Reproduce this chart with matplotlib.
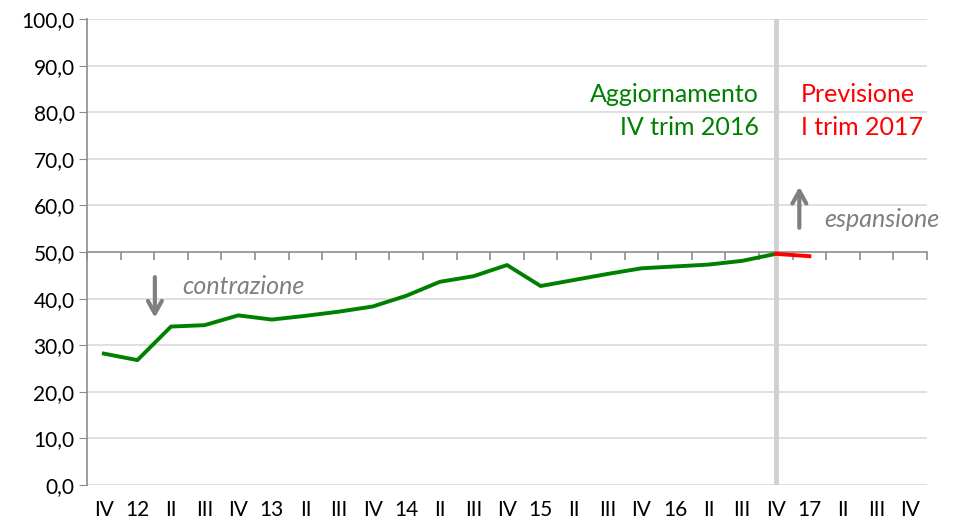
import matplotlib
matplotlib.use("Agg")
import matplotlib.pyplot as plt
import numpy as np

plt.rcParams['font.family'] = ['Lato', 'DejaVu Sans']

categories = ["IV", "12", "II", "III", "IV", "13", "II", "III", "IV", "14", "II", "III",
              "IV", "15", "II", "III", "IV", "16", "II", "III", "IV", "17", "II", "III", "IV"]
actual = [28.2, 26.8, 34.0, 34.3, 36.4, 35.5, 36.3, 37.2, 38.3, 40.6, 43.6, 44.8,
          47.2, 42.7, 44.0, 45.3, 46.5, 46.9, 47.3, 48.1, 49.6]
forecast = [49.6, 49.1]
forecast_start = 20
yticks = list(range(0, 101, 10))

fig = plt.figure(figsize=(9.55, 5.25), dpi=100)
ax = fig.add_axes([0.0911, 0.0762, 0.8796, 0.8876])

n = len(categories)
x = np.arange(n)
ax.set_xlim(-0.5, n - 0.5)
ax.set_ylim(0, 100)

# gridlines
for yv in yticks:
    if yv != 50:
        ax.axhline(yv, color="#d9d9d9", lw=1.2, zorder=0)

# vertical separator
ax.axvline(forecast_start, color="#d0d0d0", lw=3.5, zorder=1)

# series
ax.plot(x[:len(actual)], actual, color="#008000", lw=2.8, zorder=3, solid_joinstyle="round")
ax.plot(x[forecast_start:forecast_start + len(forecast)], forecast, color="#ff0000", lw=2.8, zorder=3)

# axes styling
for s in ["top", "right"]:
    ax.spines[s].set_visible(False)
ax.spines["left"].set_color("#8c8c8c")
ax.spines["left"].set_linewidth(1.2)
ax.spines["bottom"].set_position(("data", 50))
ax.spines["bottom"].set_color("#8c8c8c")
ax.spines["bottom"].set_linewidth(1.2)

ax.set_yticks(yticks)
ax.set_yticklabels([f"{v:.1f}".replace(".", ",") for v in yticks])
ax.tick_params(axis="y", direction="out", length=6, color="#8c8c8c", labelsize=15, pad=3)

ax.set_xticks(np.arange(-0.5, n, 1.0))
ax.tick_params(axis="x", direction="out", length=6, width=1.2, color="#8c8c8c", labelbottom=False)

sec = ax.secondary_xaxis(0)
sec.set_xticks(x)
sec.set_xticklabels(categories)
sec.tick_params(length=0, labelsize=15, pad=11)
sec.spines["bottom"].set_visible(False)

# annotations
arrow_props = dict(arrowstyle="->,head_length=0.9,head_width=0.5", color="#7f7f7f", lw=3)
ax.annotate("", xy=(1.52, 35.3), xytext=(1.52, 45.2), arrowprops=arrow_props)
ax.text(2.35, 42.6, "contrazione", color="#7f7f7f", style="italic", fontsize=18, va="center", ha="left")

ax.annotate("", xy=(20.7, 64.6), xytext=(20.7, 54.6), arrowprops=arrow_props)
ax.text(21.45, 57.0, "espansione", color="#7f7f7f", style="italic", fontsize=18, va="center", ha="left")

ax.text(19.5, 86.3, "Aggiornamento\nIV trim 2016", color="#008000", fontsize=18, ha="right", va="top",
        linespacing=1.55)
ax.text(20.75, 86.3, "Previsione\nI trim 2017", color="#ff0000", fontsize=18, ha="left", va="top",
        linespacing=1.55)

fig.savefig("out.png", dpi=100)
